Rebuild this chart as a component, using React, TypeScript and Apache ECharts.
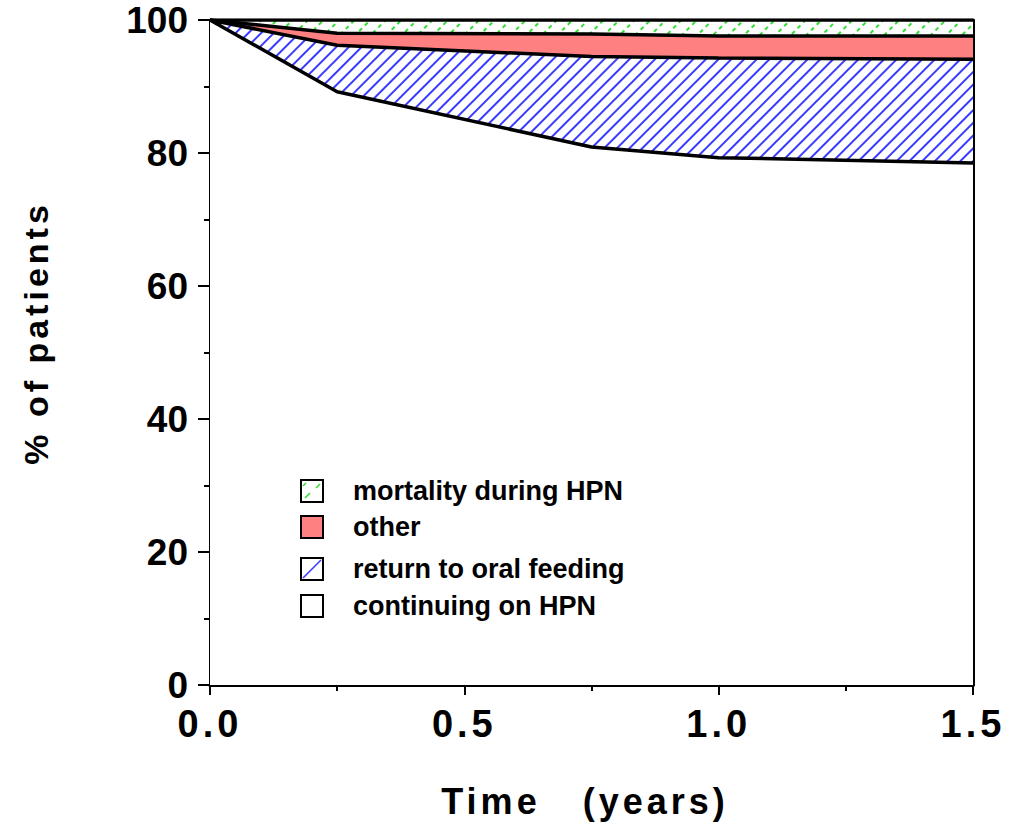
import React, { useEffect, useRef } from "react";
import * as echarts from "echarts";

const timePoints = [0, 0.25, 0.75, 1.0, 1.5];
const continuingOnHPN = [100, 89.2, 80.9, 79.3, 78.5];
const returnToOral = [0, 7.0, 13.6, 15.0, 15.6];
const otherOutcome = [0, 1.8, 3.4, 3.3, 3.5];
const mortalityHPN = [0, 2.0, 2.1, 2.4, 2.4];
const legendLabels = ["mortality during HPN", "other", "return to oral feeding", "continuing on HPN"];
const xTickLabels = ["0.0", "0.5", "1.0", "1.5"];
const yTickLabels = ["0", "20", "40", "60", "80", "100"];

const layers = [continuingOnHPN, returnToOral, otherOutcome, mortalityHPN];
const cumulative = (upto: number) =>
  timePoints.map((t, i) => {
    let s = 0;
    for (let k = 0; k <= upto; k++) s += layers[k][i];
    return [t, +s.toFixed(2)];
  });

const blueDecal = {
  symbol: "rect",
  symbolSize: 1,
  color: "#3b3bff",
  dashArrayX: [1, 0],
  dashArrayY: [1.6, 6.4],
  rotation: -Math.PI / 4,
};
const greenDecal = {
  symbol: "rect",
  symbolSize: 1,
  color: "#33dd33",
  dashArrayX: [4, 4],
  dashArrayY: [1.6, 8.4],
  rotation: -Math.PI / 4,
};

export default function App() {
  const ref = useRef<HTMLDivElement>(null);
  useEffect(() => {
    if (!ref.current) return;
    const chart = echarts.init(ref.current, undefined, { renderer: "svg" });
    const lineStyle = { color: "#000", width: 3.5 };
    const mk = (name: string, data: number[][], area: any, z: number, decal?: any) => ({
      name,
      type: "line",
      data,
      showSymbol: false,
      symbol: "none",
      lineStyle: decal ? { ...lineStyle, decal } : lineStyle,
      itemStyle: decal ? { color: "#000", decal } : { color: "#000" },
      areaStyle: { ...area, origin: "start" },
      z,
    });
    const legendY = [491, 527, 569, 606];
    const graphic: any[] = [];
    legendLabels.forEach((lab, i) => {
      const cy = legendY[i];
      const x0 = 301;
      const y0 = cy - 11;
      const fill = i === 1 ? "#ff8080" : "#fff";
      graphic.push({
        type: "rect",
        shape: { x: x0, y: y0, width: 22, height: 22 },
        style: { fill, stroke: "#000", lineWidth: 2 },
        z: 10,
      });
      if (i === 0) {
        graphic.push({ type: "line", shape: { x1: x0 + 4, y1: y0 + 18, x2: x0 + 9, y2: y0 + 13 }, style: { stroke: "#33dd33", lineWidth: 1.6 }, z: 11 });
        graphic.push({ type: "line", shape: { x1: x0 + 15, y1: y0 + 8, x2: x0 + 19, y2: y0 + 4 }, style: { stroke: "#33dd33", lineWidth: 1.6 }, z: 11 });
        graphic.push({ type: "line", shape: { x1: x0 + 2, y1: y0 + 6, x2: x0 + 5, y2: y0 + 3 }, style: { stroke: "#33dd33", lineWidth: 1.6 }, z: 11 });
      }
      if (i === 2) {
        graphic.push({ type: "line", shape: { x1: x0 + 2, y1: y0 + 20, x2: x0 + 20, y2: y0 + 2 }, style: { stroke: "#3b3bff", lineWidth: 1.6 }, z: 11 });
      }
      graphic.push({
        type: "text",
        x: 353,
        y: cy,
        style: {
          text: lab,
          fill: "#000",
          font: "bold 27px 'Liberation Sans'",
          textVerticalAlign: "middle",
          textAlign: "left",
        },
        z: 11,
      });
    });
    graphic.push({
      type: "text",
      x: 36,
      y: 333,
      rotation: Math.PI / 2,
      style: {
        text: "% of patients",
        fill: "#000",
        font: "bold 34px Arial",
        textAlign: "center",
        textVerticalAlign: "middle",
      },
    });
    graphic.push({
      type: "text",
      x: 585,
      y: 801,
      style: {
        text: "Time   (years)",
        fill: "#000",
        font: "bold 36px Arial",
        textAlign: "center",
        textVerticalAlign: "middle",
      },
    });

    chart.setOption({
      animation: false,
      grid: { left: 210, right: 38, top: 20, bottom: 141, containLabel: false },
      xAxis: {
        type: "value",
        min: 0,
        max: 1.5,
        interval: 0.5,
        axisLine: { show: true, onZero: false, lineStyle: { color: "#000", width: 3 } },
        axisTick: { show: true, length: 10, lineStyle: { color: "#000", width: 2 } },
        minorTick: { show: true, splitNumber: 2, length: 6, lineStyle: { color: "#000", width: 2 } },
        splitLine: { show: false },
        minorSplitLine: { show: false },
        axisLabel: {
          margin: 20,
          color: "#000",
          fontSize: 38,
          fontWeight: "bold",
          fontFamily: "Arial",
          formatter: (v: number) => xTickLabels[Math.round(v / 0.5)] ?? "",
        },
      },
      yAxis: [
        {
          type: "value",
          min: 0,
          max: 100,
          interval: 20,
          axisLine: { show: true, lineStyle: { color: "#000", width: 3 } },
          axisTick: { show: true, length: 12, lineStyle: { color: "#000", width: 2 } },
          minorTick: { show: true, splitNumber: 2, length: 6, lineStyle: { color: "#000", width: 2 } },
          splitLine: { show: false },
          axisLabel: {
            margin: 22,
            color: "#000",
            fontSize: 37,
            fontWeight: "bold",
            fontFamily: "'Liberation Sans'",
            formatter: (v: number) => yTickLabels[Math.round(v / 20)] ?? "",
          },
        },
        {
          type: "value",
          position: "right",
          min: 0,
          max: 100,
          axisLine: { show: true, lineStyle: { color: "#000", width: 3 } },
          axisTick: { show: false },
          axisLabel: { show: false },
          splitLine: { show: false },
        },
      ],
      series: [
        mk("mortality during HPN", cumulative(3), { color: "#fff", opacity: 1 }, 2, greenDecal),
        mk("other", cumulative(2), { color: "#ff8080", opacity: 1 }, 3),
        mk("return to oral feeding", cumulative(1), { color: "#fff", opacity: 1 }, 4, blueDecal),
        mk("continuing on HPN", cumulative(0), { color: "#fff", opacity: 1 }, 5),
      ],
      graphic,
    });
    return () => chart.dispose();
  }, []);
  return (
    <>
      <style>{`
        text[style*="Arial"], text[font-family*="Arial"] { letter-spacing: 4px; }
      `}</style>
      <div ref={ref} style={{ position: "absolute", left: 0, top: 0, width: 1011, height: 826, background: "#fff" }} />
    </>
  );
}
